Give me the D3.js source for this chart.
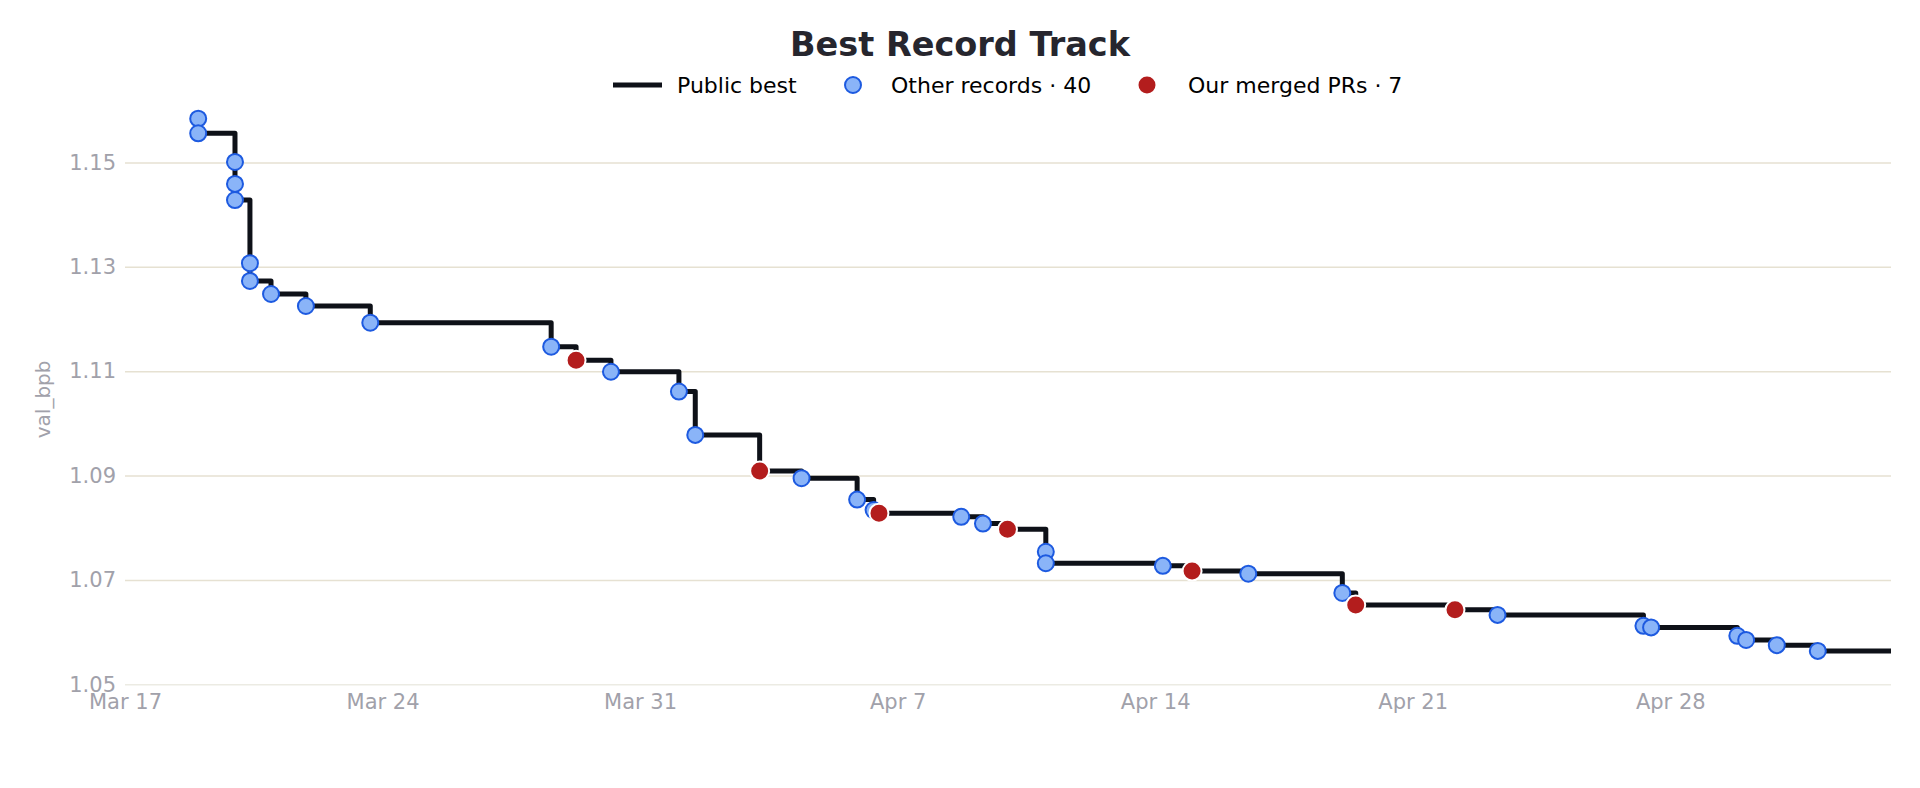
<!DOCTYPE html>
<html>
<head>
<meta charset="utf-8">
<script src="https://cdn.jsdelivr.net/npm/d3@7"></script>
<style>
  body { margin: 0; background: #fff; }
  text { font-family: "DejaVu Sans", sans-serif; }
</style>
</head>
<body>
<div id="chart"></div>
<script>

// records (date, val_bpb)
var otherDates = [
  "2024-03-18T23:45", "2024-03-18T23:45", "2024-03-19T23:45", "2024-03-19T23:45", "2024-03-19T23:45",
  "2024-03-20T09:30", "2024-03-20T09:30", "2024-03-20T23:15", "2024-03-21T22:00", "2024-03-23T16:00",
  "2024-03-28T14:00", "2024-03-30T05:00", "2024-04-01T01:20", "2024-04-01T12:00", "2024-04-04T09:20",
  "2024-04-05T21:35", "2024-04-06T08:20", "2024-04-08T17:30", "2024-04-09T07:40", "2024-04-11T00:40",
  "2024-04-11T00:40", "2024-04-14T05:00", "2024-04-16T12:45", "2024-04-19T02:05", "2024-04-23T07:20",
  "2024-04-27T06:30", "2024-04-27T11:30", "2024-04-29T19:45", "2024-04-30T01:30", "2024-04-30T21:30",
  "2024-05-02T00:15"
];
var otherValues = [
  1.1584, 1.1556, 1.1501, 1.1459, 1.1428,
  1.1307, 1.1273, 1.1248, 1.1225, 1.1193,
  1.1147, 1.1099, 1.1061, 1.0978, 1.0895,
  1.0854, 1.0834, 1.0821, 1.0808, 1.0754,
  1.0732, 1.0727, 1.0712, 1.0675, 1.0633,
  1.0612, 1.0609, 1.0593, 1.0585, 1.0575,
  1.0564
];
var oursDates = [
  "2024-03-29T06:15", "2024-04-03T06:00", "2024-04-06T11:50", "2024-04-09T23:40",
  "2024-04-15T00:05", "2024-04-19T10:50", "2024-04-22T03:35"
];
var oursValues = [1.1121, 1.0909, 1.0828, 1.0797, 1.0717, 1.0652, 1.0643];

var otherCount = 40;
var oursCount = 7;
var yTicks = [1.05, 1.07, 1.09, 1.11, 1.13, 1.15];
var xDomain = ["2024-03-17T00:00", "2024-05-04T00:00"];
var yDomain = [1.05, 1.1592];

var width = 1920, height = 788;
var plot = {left: 125, right: 1891, top: 114.5, bottom: 684.3};

var parse = d3.timeParse("%Y-%m-%dT%H:%M");

var others = otherDates.map(function(d, i) { return {date: parse(d), value: otherValues[i]}; });
var ours = oursDates.map(function(d, i) { return {date: parse(d), value: oursValues[i]}; });

var svg = d3.select("#chart")
  .append("svg")
    .attr("width", width)
    .attr("height", height);

var x = d3.scaleTime()
  .domain(xDomain.map(parse))
  .range([plot.left, plot.right]);

var y = d3.scaleLinear()
  .domain(yDomain)
  .range([plot.bottom, plot.top]);

// gridlines + y tick labels
var yAxis = svg.append("g")
  .attr("transform", "translate(" + plot.left + ",0)")
  .call(d3.axisLeft(y).tickValues(yTicks).tickFormat(d3.format(".2f"))
    .tickSize(-(plot.right - plot.left)).tickPadding(9));
yAxis.select(".domain").remove();
yAxis.selectAll(".tick line")
  .attr("stroke", function(d) { return d === 1.05 ? "#ecebe3" : "#e6e1d2"; })
  .attr("stroke-width", 1.5);
yAxis.selectAll(".tick text")
  .attr("fill", "#a1a1aa")
  .style("font-size", "21px");

// x axis labels
var xAxis = svg.append("g")
  .attr("transform", "translate(0," + plot.bottom + ")")
  .call(d3.axisBottom(x).ticks(d3.timeWeek.every(1)).tickFormat(d3.timeFormat("%b %-d"))
    .tickSize(0).tickPadding(10));
xAxis.select(".domain").remove();
xAxis.selectAll(".tick text")
  .attr("fill", "#a1a1aa")
  .style("font-size", "21px");

// y axis title
svg.append("text")
  .attr("transform", "translate(43," + ((plot.top + plot.bottom) / 2) + ") rotate(-90)")
  .attr("text-anchor", "middle")
  .attr("dy", "0.35em")
  .attr("fill", "#a1a1aa")
  .style("font-size", "20px")
  .text("val_bpb");

// public best = running minimum over all records, as a step line
var all = others.concat(ours).sort(function(a, b) { return a.date - b.date || b.value - a.value; });
var best = [];
var cur = Infinity;
all.forEach(function(d) {
  cur = Math.min(cur, d.value);
  best.push({date: d.date, value: cur});
});
best.push({date: x.domain()[1], value: cur});

var line = d3.line()
  .curve(d3.curveStepAfter)
  .x(function(d) { return x(d.date); })
  .y(function(d) { return y(d.value); });

svg.append("path")
  .datum(best)
  .attr("fill", "none")
  .attr("stroke", "#0e1118")
  .attr("stroke-width", 5)
  .attr("stroke-linejoin", "round")
  .attr("d", line);

// other records
svg.append("g")
  .selectAll("circle")
  .data(others)
  .enter()
  .append("circle")
    .attr("cx", function(d) { return x(d.date); })
    .attr("cy", function(d) { return y(d.value); })
    .attr("r", 8)
    .attr("fill", "#8ab4f8")
    .attr("stroke", "#1d5ae0")
    .attr("stroke-width", 2);

// our merged PRs
svg.append("g")
  .selectAll("circle")
  .data(ours)
  .enter()
  .append("circle")
    .attr("cx", function(d) { return x(d.date); })
    .attr("cy", function(d) { return y(d.value); })
    .attr("r", 9.5)
    .attr("fill", "#b31d1d")
    .attr("stroke", "#fff")
    .attr("stroke-width", 2);

// title
svg.append("text")
  .attr("x", 960)
  .attr("y", 44)
  .attr("dy", "0.35em")
  .attr("text-anchor", "middle")
  .attr("fill", "#26262e")
  .style("font-size", "33.5px")
  .style("font-weight", "bold")
  .text("Best Record Track");

// legend
var legend = svg.append("g").attr("transform", "translate(0,85)");
legend.append("line")
  .attr("x1", 613).attr("x2", 662)
  .attr("stroke", "#0e1118").attr("stroke-width", 5);
legend.append("text")
  .attr("x", 677).attr("dy", "0.35em")
  .style("font-size", "22px")
  .text("Public best");
legend.append("circle")
  .attr("cx", 853).attr("r", 8)
  .attr("fill", "#8ab4f8").attr("stroke", "#1d5ae0").attr("stroke-width", 2);
legend.append("text")
  .attr("x", 891).attr("dy", "0.35em")
  .style("font-size", "22px")
  .text("Other records · " + otherCount);
legend.append("circle")
  .attr("cx", 1147).attr("r", 9.5)
  .attr("fill", "#b31d1d").attr("stroke", "#fff").attr("stroke-width", 2);
legend.append("text")
  .attr("x", 1188).attr("dy", "0.35em")
  .style("font-size", "22px")
  .text("Our merged PRs · " + oursCount);

</script>
</body>
</html>
